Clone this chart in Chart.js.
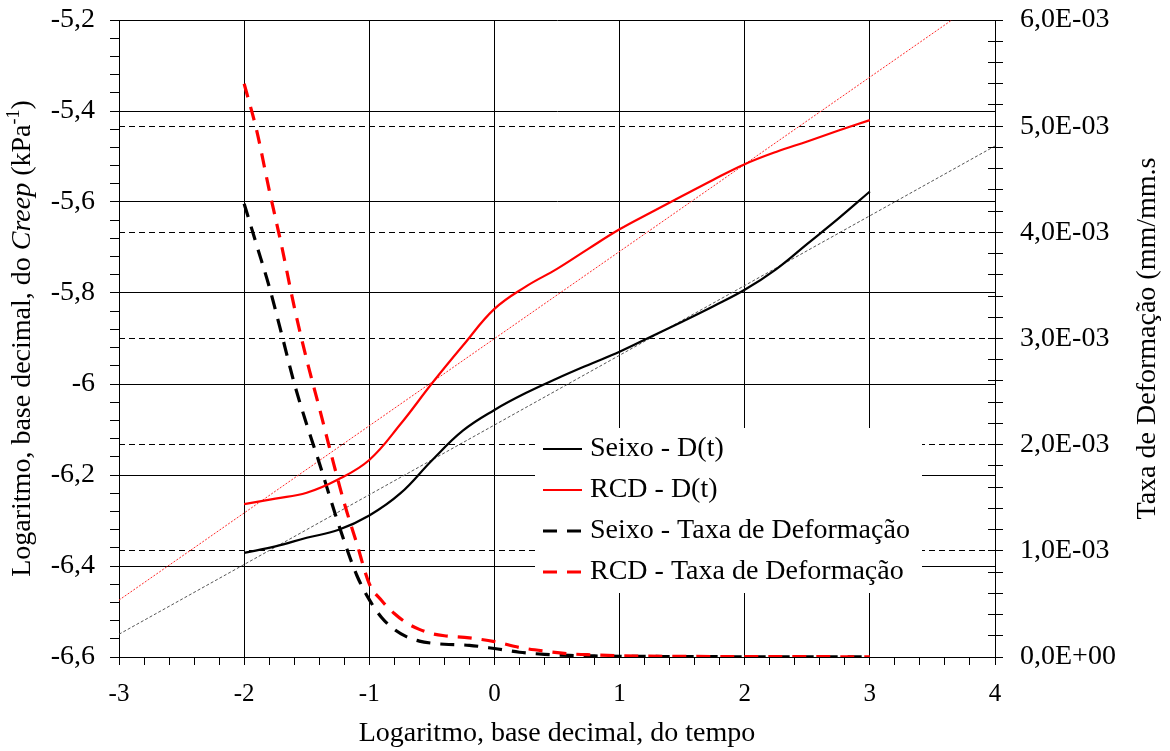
<!DOCTYPE html>
<html>
<head>
<meta charset="utf-8">
<script src="https://cdn.jsdelivr.net/npm/chart.js@4.4.1/dist/chart.umd.min.js"></script>
<style>
  html, body { margin: 0; padding: 0; background: #fff; }
  canvas { display: block; }
</style>
</head>
<body>
<canvas id="chart" width="1170" height="751"></canvas>
<script>
// Creep compliance D(t): log10 of time vs log10 of creep (kPa^-1)
const dtX   = [-2, -1.75, -1.5, -1.25, -1, -0.75, -0.5, -0.25, 0, 0.25, 0.5, 0.75, 1, 1.25, 1.5, 1.75, 2, 2.25, 2.5, 2.75, 3];
const seixoD = [-6.371, -6.357, -6.338, -6.321, -6.289, -6.240, -6.168, -6.102, -6.057, -6.020, -5.988, -5.958, -5.929, -5.896, -5.863, -5.829, -5.793, -5.748, -5.692, -5.636, -5.577];
const rcdD   = [-6.264, -6.252, -6.239, -6.210, -6.167, -6.088, -5.999, -5.915, -5.835, -5.786, -5.747, -5.703, -5.660, -5.623, -5.587, -5.551, -5.517, -5.490, -5.467, -5.443, -5.420];

// Strain rate (mm/mm.s) vs log10 of time
const taxaX = [-2, -1.9, -1.8, -1.7, -1.6, -1.5, -1.4, -1.3, -1.2, -1.1, -1, -0.9, -0.8, -0.7, -0.6, -0.5, -0.4, -0.2, 0, 0.2, 0.4, 0.6, 0.8, 1, 1.5, 2, 2.5, 3];
const seixoTaxa = [4.27e-3, 3.88e-3, 3.49e-3, 3.04e-3, 2.58e-3, 2.19e-3, 1.83e-3, 1.45e-3, 1.09e-3, 0.77e-3, 0.54e-3, 0.37e-3, 0.26e-3, 0.19e-3, 0.15e-3, 0.13e-3, 0.12e-3, 0.11e-3, 0.08e-3, 0.045e-3, 0.025e-3, 0.015e-3, 0.01e-3, 0.007e-3, 0.004e-3, 0.002e-3, 0.001e-3, 0.001e-3];
const rcdTaxa   = [5.40e-3, 4.96e-3, 4.40e-3, 3.87e-3, 3.30e-3, 2.80e-3, 2.35e-3, 1.89e-3, 1.45e-3, 1.07e-3, 0.69e-3, 0.53e-3, 0.41e-3, 0.32e-3, 0.26e-3, 0.22e-3, 0.20e-3, 0.18e-3, 0.145e-3, 0.09e-3, 0.055e-3, 0.03e-3, 0.02e-3, 0.012e-3, 0.006e-3, 0.004e-3, 0.003e-3, 0.002e-3];

// Linear trend lines of D(t) (end points)
const trendX     = [-3, 4];
const seixoTrend = [-6.550, -5.477];
const rcdTrend   = [-6.475, -5.134];

// Axes: ranges and major tick labels
const xRange  = [-3, 4];
const yRange  = [-6.6, -5.2];
const y1Range = [0, 6e-3];
const xTickLabels  = ['-3', '-2', '-1', '0', '1', '2', '3', '4'];
const yTickLabels  = ['-6,6', '-6,4', '-6,2', '-6', '-5,8', '-5,6', '-5,4', '-5,2'];
const y1TickLabels = ['0,0E+00', '1,0E-03', '2,0E-03', '3,0E-03', '4,0E-03', '5,0E-03', '6,0E-03'];

const SERIF = '"Liberation Serif", "Times New Roman", serif';
const MINOR = 5; // minor divisions per major step

const pts = (xs, ys) => xs.map((x, i) => ({ x, y: ys[i] }));

// major + minor tick values between two bounds
function tickValues(range, majors) {
  const n = (majors - 1) * MINOR, out = [];
  for (let i = 0; i <= n; i++) {
    out.push({ value: +(range[0] + (range[1] - range[0]) * i / n).toFixed(9) });
  }
  return out;
}
const majorOnly = (ctx) => ctx.index % MINOR === 0 ? '#000' : 'rgba(0,0,0,0)';
const labelFrom = (labels) => (v, i) => i % MINOR === 0 ? labels[i / MINOR] : '';

// fixed axis box sizes, no extra room for overhanging labels
const fixVertical = (w) => (s) => { s.width = w; s.paddingTop = 0; s.paddingBottom = 0; };
const fixHorizontal = (h) => (s) => { s.height = h; s.paddingLeft = 0; s.paddingRight = 0; };

// tick marks that cross into the plot on the right axis
const innerTicks = {
  id: 'innerTicks',
  afterDraw(chart) {
    const s = chart.scales.y1, ctx = chart.ctx;
    ctx.save();
    ctx.strokeStyle = '#000';
    ctx.lineWidth = 1;
    s.ticks.forEach(t => {
      const y = Math.round(s.getPixelForValue(t.value) - 0.5) + 0.5;
      ctx.beginPath();
      ctx.moveTo(s.left - 7, y);
      ctx.lineTo(s.left, y);
      ctx.stroke();
    });
    ctx.restore();
  }
};

// vertical axis titles (rich text on the left, bottom-to-top on the right)
const sideTitles = {
  id: 'sideTitles',
  afterDraw(chart) {
    const ctx = chart.ctx, ca = chart.chartArea;
    const cy = (ca.top + ca.bottom) / 2;
    const runs = [
      { t: 'Logaritmo, base decimal, do ', f: '28px ' + SERIF, dy: 0 },
      { t: 'Creep', f: 'italic 28px ' + SERIF, dy: 0 },
      { t: ' (kPa', f: '28px ' + SERIF, dy: 0 },
      { t: '-1', f: '18px ' + SERIF, dy: -11 },
      { t: ')', f: '28px ' + SERIF, dy: 0 }
    ];
    ctx.save();
    ctx.fillStyle = '#000';
    ctx.textBaseline = 'alphabetic';
    ctx.textAlign = 'left';
    let total = 0;
    runs.forEach(r => { ctx.font = r.f; r.w = ctx.measureText(r.t).width; total += r.w; });
    ctx.translate(30, cy);
    ctx.rotate(-Math.PI / 2);
    let x = -total / 2;
    runs.forEach(r => { ctx.font = r.f; ctx.fillText(r.t, x, r.dy); x += r.w; });
    ctx.restore();

    ctx.save();
    ctx.fillStyle = '#000';
    ctx.font = '28px ' + SERIF;
    ctx.textAlign = 'center';
    ctx.textBaseline = 'alphabetic';
    ctx.translate(1155, cy);
    ctx.rotate(-Math.PI / 2);
    ctx.fillText('Taxa de Deformação (mm/mm.s', 0, 0);
    ctx.restore();
  }
};

// legend box inside the plot area
const boxLegend = {
  id: 'boxLegend',
  afterDatasetsDraw(chart) {
    const ca = chart.chartArea, ctx = chart.ctx;
    const x0 = ca.left + 416, y0 = ca.top + 408, w = 387, h = 165;
    ctx.save();
    ctx.fillStyle = '#fff';
    ctx.fillRect(x0, y0, w, h);
    chart.data.datasets.filter(d => d.label).forEach((d, i) => {
      const y = y0 + 21 + i * 41;
      ctx.strokeStyle = d.borderColor;
      ctx.lineWidth = d.borderWidth;
      ctx.setLineDash(d.borderDash || []);
      ctx.beginPath();
      ctx.moveTo(x0 + 8, y);
      ctx.lineTo(x0 + 47, y);
      ctx.stroke();
      ctx.setLineDash([]);
      ctx.fillStyle = '#000';
      ctx.font = '28px ' + SERIF;
      ctx.textAlign = 'left';
      ctx.textBaseline = 'middle';
      ctx.fillText(d.label, x0 + 55, y);
    });
    ctx.restore();
  }
};

const smoothLine = { pointRadius: 0, fill: false, tension: 0.4 };
const monoLine = { pointRadius: 0, fill: false, cubicInterpolationMode: 'monotone' };

new Chart(document.getElementById('chart'), {
  type: 'line',
  data: {
    datasets: [
      { ...smoothLine, label: 'Seixo - D(t)', data: pts(dtX, seixoD), borderColor: '#000', borderWidth: 2.2, yAxisID: 'y', order: 1 },
      { ...smoothLine, label: 'RCD - D(t)', data: pts(dtX, rcdD), borderColor: '#ff0000', borderWidth: 2.2, yAxisID: 'y', order: 1 },
      { ...monoLine, label: 'Seixo - Taxa de Deformação', data: pts(taxaX, seixoTaxa), borderColor: '#000', borderWidth: 3.2, borderDash: [14, 10], yAxisID: 'y1', order: 2 },
      { ...monoLine, label: 'RCD - Taxa de Deformação', data: pts(taxaX, rcdTaxa), borderColor: '#ff0000', borderWidth: 3.2, borderDash: [14, 10], yAxisID: 'y1', order: 1 },
      { ...monoLine, data: pts(trendX, seixoTrend), borderColor: '#555', borderWidth: 1, borderDash: [3, 2], yAxisID: 'y', order: 3 },
      { ...monoLine, data: pts(trendX, rcdTrend), borderColor: '#ff2a2a', borderWidth: 1, borderDash: [2, 1.5], yAxisID: 'y', order: 3 }
    ]
  },
  options: {
    responsive: false,
    animation: false,
    events: [],
    layout: { padding: { top: 20, left: 0, right: 0, bottom: 0 } },
    plugins: { legend: { display: false }, tooltip: { enabled: false } },
    scales: {
      x: {
        type: 'linear', min: xRange[0], max: xRange[1],
        afterBuildTicks: s => { s.ticks = tickValues(xRange, xTickLabels.length); },
        afterFit: fixHorizontal(94),
        grid: { color: majorOnly, tickColor: '#000', tickLength: 8, lineWidth: 1 },
        border: { display: true, color: '#000', width: 1 },
        ticks: { callback: labelFrom(xTickLabels), autoSkip: false, maxRotation: 0, padding: 14, color: '#000', font: { family: SERIF, size: 25 } },
        title: { display: true, text: 'Logaritmo, base decimal, do tempo', color: '#000', font: { family: SERIF, size: 28 }, padding: { top: 0, bottom: 1 } }
      },
      y: {
        type: 'linear', position: 'left', min: yRange[0], max: yRange[1],
        afterBuildTicks: s => { s.ticks = tickValues(yRange, yTickLabels.length); },
        afterFit: fixVertical(119),
        grid: { color: majorOnly, tickColor: '#000', tickLength: 9, lineWidth: 1 },
        border: { display: true, color: '#000', width: 1 },
        ticks: { callback: labelFrom(yTickLabels), autoSkip: false, padding: 15, color: '#000', font: { family: SERIF, size: 28 } }
      },
      y1: {
        type: 'linear', position: 'right', min: y1Range[0], max: y1Range[1],
        afterBuildTicks: s => { s.ticks = tickValues(y1Range, y1TickLabels.length); },
        afterFit: fixVertical(175),
        grid: { color: majorOnly, tickColor: '#000', tickLength: 8, lineWidth: 1, drawOnChartArea: true },
        border: { display: true, color: '#000', width: 1, dash: [6, 4] },
        ticks: { callback: labelFrom(y1TickLabels), autoSkip: false, padding: 17, color: '#000', font: { family: SERIF, size: 28 } }
      }
    }
  },
  plugins: [boxLegend, innerTicks, sideTitles]
});
</script>
</body>
</html>
